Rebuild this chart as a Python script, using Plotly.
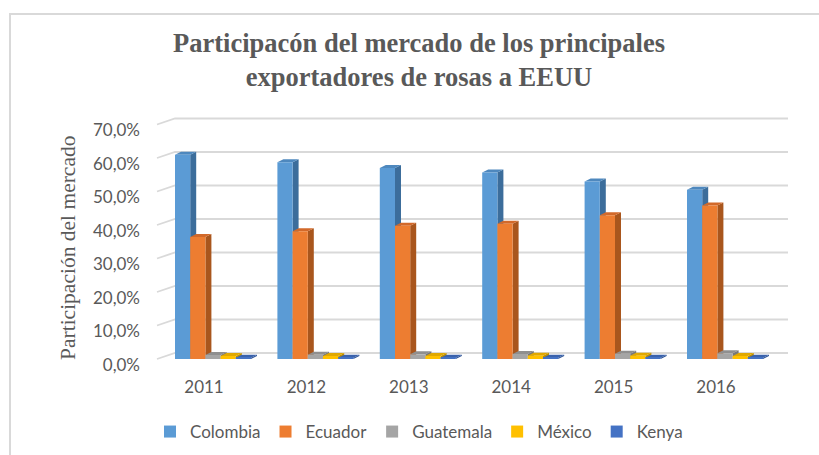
import plotly.graph_objects as go

# ---- data -------------------------------------------------------------
years = ["2011", "2012", "2013", "2014", "2015", "2016"]
colombia = [0.610, 0.587, 0.570, 0.557, 0.530, 0.505]
ecuador = [0.364, 0.381, 0.398, 0.404, 0.429, 0.458]
guatemala = [0.012, 0.013, 0.014, 0.015, 0.016, 0.017]
mexico = [0.009, 0.009, 0.009, 0.010, 0.010, 0.009]
kenya = [0.004, 0.004, 0.004, 0.004, 0.004, 0.004]
series_names = ["Colombia", "Ecuador", "Guatemala", "México", "Kenya"]
y_ticks = [0.0, 0.1, 0.2, 0.3, 0.4, 0.5, 0.6, 0.7]

# ---- style ------------------------------------------------------------
front_colors = ["#5B9BD5", "#ED7D31", "#A5A5A5", "#FFC000", "#4472C4"]
side_colors = ["#3C6D9B", "#A9561D", "#787878", "#BF9000", "#2F5496"]
top_colors = ["#4E88BE", "#D2692A", "#8F8F8F", "#E0A800", "#3A62AC"]
grid_color = "#D9D9D9"
text_color = "#595959"

W, H = 819, 455
L, R, T, B = 147, 29, 112, 89
px_per_cat = 102.4
px_per_unit_y = 335.0
cat0_px = 204.0
base_px = 359.0
x_min = -(cat0_px - L) / px_per_cat
x_max = (W - R - cat0_px) / px_per_cat
y_max = (base_px - T) / px_per_unit_y
y_min = -((H - B) - base_px) / px_per_unit_y

bar_w = 15.2 / px_per_cat           # bar width in category units
group_shift = 9.0 / px_per_cat      # bars sit mid-depth
bar_dx = 6.0 / px_per_cat           # bar depth (x)
bar_dy = 3.0 / px_per_unit_y        # bar depth (y)
wall_dx = 18.0 / px_per_cat         # floor depth (x)
wall_dy = 6.0 / px_per_unit_y       # floor depth (y)
wall_left = (157.0 - cat0_px) / px_per_cat
wall_right = (788.0 - cat0_px) / px_per_cat

all_series = [colombia, ecuador, guatemala, mexico, kenya]
xs = list(range(len(years)))

fig = go.Figure()
shapes = []


def px2paper_x(p):
    return (p - L) / (W - L - R)


def px2paper_y(p):
    return ((H - B) - p) / (H - T - B)


# frame around the chart
shapes.append(dict(type="rect", xref="paper", yref="paper",
                   x0=px2paper_x(10), x1=px2paper_x(840),
                   y0=px2paper_y(480), y1=px2paper_y(14),
                   line=dict(color="#D9D9D9", width=2), fillcolor="rgba(0,0,0,0)",
                   layer="below"))

# gridlines on the back wall with the side-wall diagonal
for v in y_ticks:
    shapes.append(dict(type="path", xref="x", yref="y", layer="below",
                       path=f"M{wall_left},{v} L{wall_left + wall_dx},{v + wall_dy} L{wall_right},{v + wall_dy}",
                       line=dict(color=grid_color, width=1.8)))

# 3D side and top faces of each bar
for i, vals in enumerate(all_series):
    off = group_shift + (i - 2.5) * bar_w
    for c, v in zip(xs, vals):
        x0 = c + off
        x1 = x0 + bar_w
        shapes.append(dict(type="path", xref="x", yref="y", layer="below",
                           path=f"M{x1},0 L{x1 + bar_dx},{bar_dy} L{x1 + bar_dx},{v + bar_dy} L{x1},{v} Z",
                           fillcolor=side_colors[i], line=dict(width=0)))
        shapes.append(dict(type="path", xref="x", yref="y", layer="below",
                           path=f"M{x0},{v} L{x0 + bar_dx},{v + bar_dy} L{x1 + bar_dx},{v + bar_dy} L{x1},{v} Z",
                           fillcolor=top_colors[i], line=dict(width=0)))

for i, (name, vals) in enumerate(zip(series_names, all_series)):
    fig.add_trace(go.Bar(
        x=xs, y=vals, name=name,
        width=bar_w, offset=group_shift + (i - 2.5) * bar_w,
        marker=dict(color=front_colors[i], line=dict(width=0)),
        hovertemplate="%{y:.1%}<extra>" + name + "</extra>",
    ))

serif = "'Liberation Serif', 'Times New Roman', serif"

fig.update_layout(
    width=W, height=H,
    margin=dict(l=L, r=R, t=T, b=B, autoexpand=False),
    paper_bgcolor="white", plot_bgcolor="rgba(0,0,0,0)",
    barmode="overlay",
    separators=",.",
    shapes=shapes,
    font=dict(family="Lato, 'Open Sans', sans-serif", color=text_color, size=16),
    title=dict(text="Participacón del mercado de los principales<br>exportadores de rosas a EEUU",
               x=419 / W, xanchor="center", y=1 - 52 / H, yanchor="middle", yref="container",
               font=dict(family=serif, size=26.5, color=text_color, weight="bold")),
    xaxis=dict(range=[x_min, x_max], tickvals=xs, ticktext=years, showgrid=False,
               zeroline=False, showline=False, ticks="", tickfont=dict(size=17),
               ticklabelstandoff=9),
    yaxis=dict(range=[y_min, y_max], tickvals=y_ticks, tickformat=".1%", showgrid=False,
               zeroline=False, showline=False, ticks="", tickfont=dict(size=17),
               ticklabelshift=6, ticklabelstandoff=6),
    legend=dict(orientation="h", x=px2paper_x(419), xanchor="center",
                yref="container", y=1 - 432 / H, yanchor="middle",
                font=dict(size=17, color=text_color), bgcolor="rgba(0,0,0,0)"),
    annotations=[dict(text="Participación del mercado", textangle=-90,
                      xref="paper", x=0, xshift=68 - L, xanchor="center",
                      yref="y", y=(base_px - 248) / px_per_unit_y, yanchor="middle",
                      showarrow=False,
                      font=dict(family=serif, size=21.5, color=text_color))],
)

fig.write_html("out.html", config={"displayModeBar": False},
               post_script="document.body.style.margin='0';")
